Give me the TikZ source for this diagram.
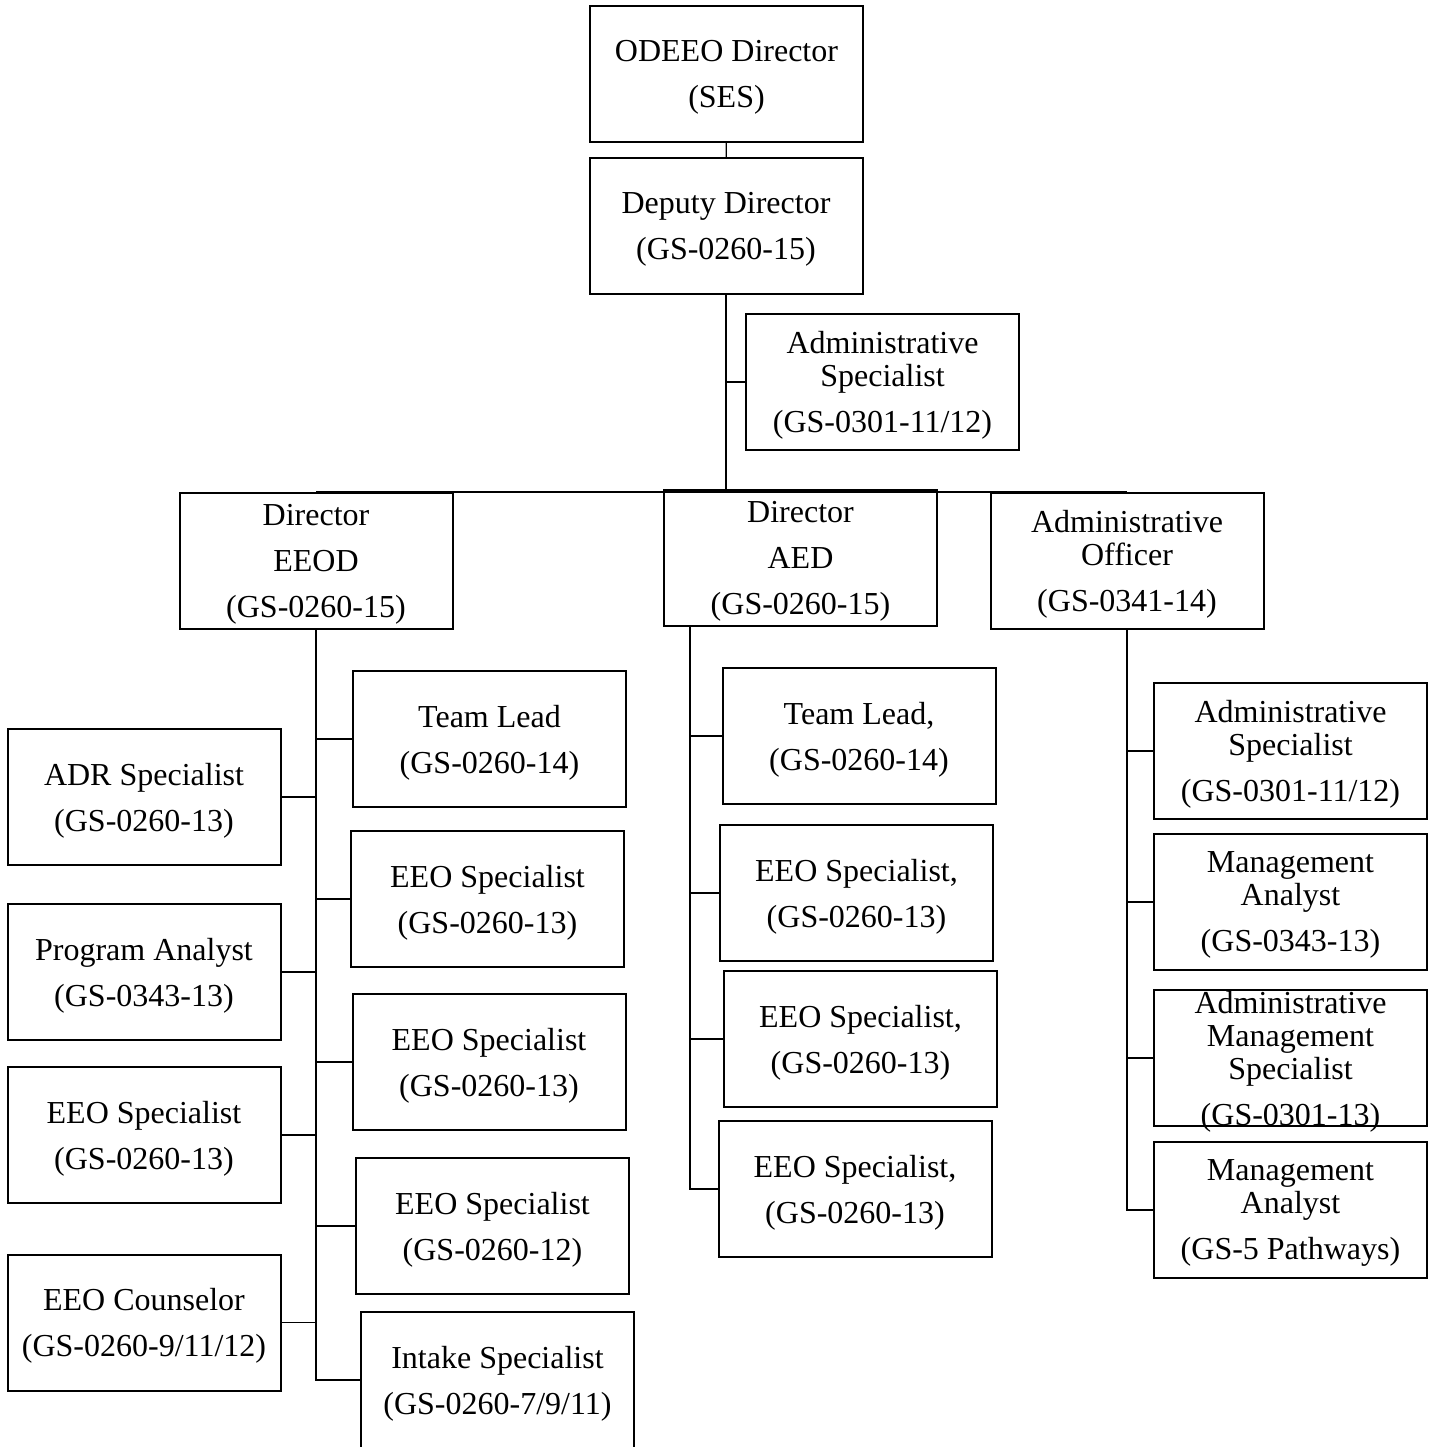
\documentclass[tikz,border=0pt]{standalone}
\usepackage{fontspec}
\setmainfont{Liberation Serif}
\usetikzlibrary{calc}

\begin{document}
\begin{tikzpicture}[
  x=0.5pt,y=-0.5pt,
  font=\fontsize{16}{16.5}\selectfont,
  post/.style={
    draw=black,
    line width=1pt,
    minimum width=136.5pt,
    minimum height=68pt,
    text depth=0pt,
    align=center
  },
  link/.style={
    draw=black,
    line width=0.7pt
  }
]
\useasboundingbox (0,0) rectangle (1434,1447);
\node[post] (odeeo) at (726.5,74) {ODEEO Director\\[6.5pt](SES)};
\node[post] (deputy) at (726,226) {Deputy Director\\[6.5pt](GS-0260-15)};
\node[post] (adminspec) at (882.5,382) {Administrative\\Specialist\\[6.5pt](GS-0301-11/12)};
\node[post] (eeod) at (316,560.5) {Director\\[6.5pt]EEOD\\[6.5pt](GS-0260-15)};
\node[post] (aed) at (800.5,557.5) {Director\\[6.5pt]AED\\[6.5pt](GS-0260-15)};
\node[post] (admoff) at (1127,561) {Administrative\\Officer\\[6.5pt](GS-0341-14)};
\node[post] (eeodlead) at (489.5,739) {Team Lead\\[6.5pt](GS-0260-14)};
\node[post] (eeodspeca) at (487.5,899) {EEO Specialist\\[6.5pt](GS-0260-13)};
\node[post] (eeodspecb) at (489,1062) {EEO Specialist\\[6.5pt](GS-0260-13)};
\node[post] (eeodspecc) at (492.5,1226) {EEO Specialist\\[6.5pt](GS-0260-12)};
\node[post] (intake) at (497.5,1380) {Intake Specialist\\[6.5pt](GS-0260-7/9/11)};
\node[post] (adr) at (144,797) {ADR Specialist\\[6.5pt](GS-0260-13)};
\node[post] (progan) at (144,972) {Program Analyst\\[6.5pt](GS-0343-13)};
\node[post] (eeodspecd) at (144,1135) {EEO Specialist\\[6.5pt](GS-0260-13)};
\node[post] (counselor) at (144,1322.5) {EEO Counselor\\[6.5pt](GS-0260-9/11/12)};
\node[post] (aedlead) at (859,736) {Team Lead,\\[6.5pt](GS-0260-14)};
\node[post] (aedspeca) at (856.5,893) {EEO Specialist,\\[6.5pt](GS-0260-13)};
\node[post] (aedspecb) at (860.5,1039) {EEO Specialist,\\[6.5pt](GS-0260-13)};
\node[post] (aedspecc) at (855,1189) {EEO Specialist,\\[6.5pt](GS-0260-13)};
\node[post] (offspec) at (1290.5,751) {Administrative\\Specialist\\[6.5pt](GS-0301-11/12)};
\node[post] (mgmta) at (1290.5,902) {Management\\Analyst\\[6.5pt](GS-0343-13)};
\node[post] (admmgmt) at (1290.5,1058) {};
\node[align=center,text depth=0pt] (admmgmttext) at (admmgmt.center) {Administrative\\Management\\Specialist\\[6.5pt](GS-0301-13)};
\node[post] (mgmtb) at (1290.5,1210) {Management\\Analyst\\[6.5pt](GS-5 Pathways)};

\coordinate (bus) at ($(deputy.south)+(0,197)$);
\coordinate (aedtrunk) at ($(aed.south west)+(27,0)$);
\draw[link] (odeeo) -- (deputy);
\draw[link] (deputy.south) -- (bus);
\draw[link] (bus -| eeod) -- (bus -| admoff);
\draw[link] (adminspec.west) -- (adminspec.west -| bus);

\draw[link] (eeod.south) -- (eeod.south |- intake.west) -- (intake.west);
\foreach \n in {eeodlead,eeodspeca,eeodspecb,eeodspecc}
  \draw[link] (\n.west) -- (\n.west -| eeod.south);
\foreach \n in {adr,progan,eeodspecd,counselor}
  \draw[link] (\n.east) -- (\n.east -| eeod.south);

\draw[link] (aedtrunk) -- (aedtrunk |- aedspecc.west) -- (aedspecc.west);
\foreach \n in {aedlead,aedspeca,aedspecb}
  \draw[link] (\n.west) -- (\n.west -| aedtrunk);

\draw[link] (admoff.south) -- (admoff.south |- mgmtb.west) -- (mgmtb.west);
\foreach \n in {offspec,mgmta,admmgmt}
  \draw[link] (\n.west) -- (\n.west -| admoff.south);
\end{tikzpicture}
\end{document}
